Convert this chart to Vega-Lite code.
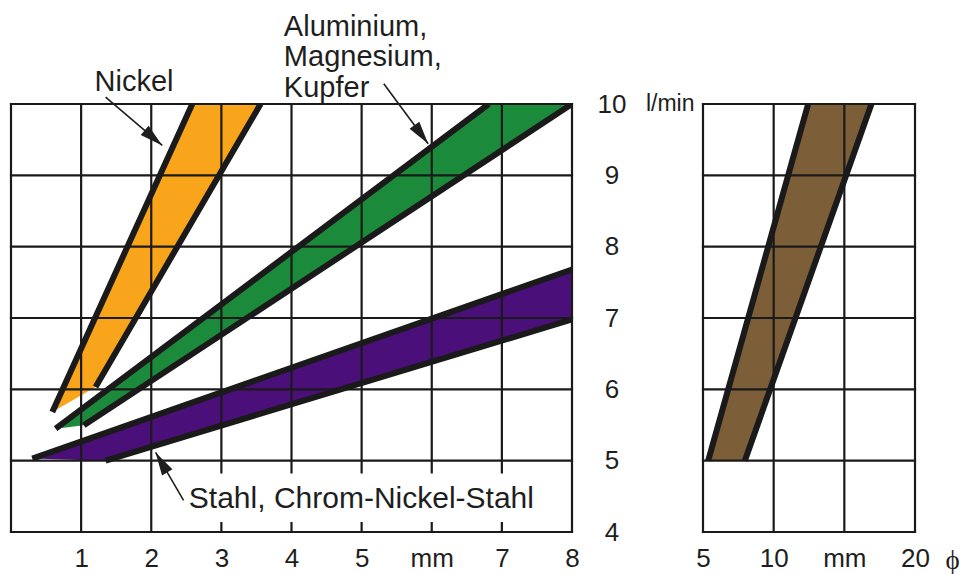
{
  "$schema": "https://vega.github.io/schema/vega-lite/v6.json",
  "background": "white",
  "padding": {"left": 9, "top": 13, "right": 0, "bottom": 0},
  "spacing": 19,
  "config": {"view": {"stroke": null}, "font": "Liberation Sans"},
  "datasets": {
    "bandsL": [
      {"band": "Nickel", "ord": 1, "x": 0.589, "y": 5.682},
      {"band": "Nickel", "ord": 2, "x": 2.585, "y": 10},
      {"band": "Nickel", "ord": 3, "x": 3.559, "y": 10},
      {"band": "Nickel", "ord": 4, "x": 1.206, "y": 6.032},
      {"band": "Aluminium", "ord": 1, "x": 0.636, "y": 5.449},
      {"band": "Aluminium", "ord": 2, "x": 6.813, "y": 10},
      {"band": "Aluminium", "ord": 3, "x": 8.0, "y": 10},
      {"band": "Aluminium", "ord": 4, "x": 1.039, "y": 5.495},
      {"band": "Stahl", "ord": 1, "x": 0.304, "y": 5.029},
      {"band": "Stahl", "ord": 2, "x": 8.0, "y": 7.68},
      {"band": "Stahl", "ord": 3, "x": 8.0, "y": 6.98},
      {"band": "Stahl", "ord": 4, "x": 1.349, "y": 5.0}
    ],
    "edgesL": [
      {"band": "Nickel", "x": 0.589, "y": 5.682, "x2": 2.585, "y2": 10},
      {"band": "Nickel", "x": 1.206, "y": 6.032, "x2": 3.559, "y2": 10},
      {"band": "Aluminium", "x": 0.636, "y": 5.449, "x2": 6.813, "y2": 10},
      {"band": "Aluminium", "x": 1.039, "y": 5.495, "x2": 8.0, "y2": 10},
      {"band": "Stahl", "x": 0.304, "y": 5.029, "x2": 8.0, "y2": 7.68},
      {"band": "Stahl", "x": 1.349, "y": 5.0, "x2": 8.0, "y2": 6.98}
    ],
    "bandsR": [
      {"band": "Rohr", "ord": 1, "x": 5.368, "y": 5.0},
      {"band": "Rohr", "ord": 2, "x": 12.44, "y": 10},
      {"band": "Rohr", "ord": 3, "x": 16.92, "y": 10},
      {"band": "Rohr", "ord": 4, "x": 7.96, "y": 5.0}
    ],
    "edgesR": [
      {"band": "Rohr", "x": 5.368, "y": 5.0, "x2": 12.44, "y2": 10},
      {"band": "Rohr", "x": 7.96, "y": 5.0, "x2": 16.92, "y2": 10}
    ],
    "vL": [{"x": 0}, {"x": 1}, {"x": 2}, {"x": 3}, {"x": 4}, {"x": 5}, {"x": 6}, {"x": 7}, {"x": 8}],
    "vR": [{"x": 5}, {"x": 10}, {"x": 15}, {"x": 20}],
    "h": [{"y": 4}, {"y": 5}, {"y": 6}, {"y": 7}, {"y": 8}, {"y": 9}, {"y": 10}],
    "boxL": [{"x": 2.42, "x2": 7.55, "y": 4.14, "y2": 4.82}],
    "notesL": [
      {"label": "Nickel", "x": 1.192, "y": 10.189},
      {"label": "Aluminium,", "x": 3.891, "y": 10.949},
      {"label": "Magnesium,", "x": 3.891, "y": 10.528},
      {"label": "Kupfer", "x": 3.891, "y": 10.094}
    ],
    "noteStahl": [
      {"label": "Stahl, Chrom-Nickel-Stahl", "x": 2.536, "y": 4.339}
    ],
    "arrowsL": [
      {"to": "Nickel", "x": 1.349, "y": 10.095, "x2": 2.157, "y2": 9.419, "heading": 130.4},
      {"to": "Aluminium", "x": 5.316, "y": 10.283, "x2": 5.949, "y2": 9.442, "heading": 143.5},
      {"to": "Stahl", "x": 2.461, "y": 4.444, "x2": 2.062, "y2": 5.116, "heading": -30.3}
    ],
    "unitR": [{"label": "l/min", "x": 5, "y": 10}],
    "phiR": [{"label": "ϕ", "x": 22.66, "y": 3.59}]
  },
  "hconcat": [
    {
      "width": 561,
      "height": 428,
      "layer": [
        {
          "data": {"name": "bandsL"},
          "mark": {"type": "line", "strokeWidth": 0},
          "encoding": {
            "x": {"field": "x", "type": "quantitative", "scale": {"domain": [0, 8], "nice": false, "zero": false},
              "axis": {"orient": "bottom", "values": [1, 2, 3, 4, 5, 6, 7, 8], "labelExpr": "datum.value == 6 ? 'mm' : datum.label", "domain": false, "ticks": false, "tickSize": 0, "grid": false, "labelFontSize": 26, "labelFont": "Liberation Sans", "labelColor": "#1e1e1e", "labelPadding": 13, "labelFlush": false, "labelOverlap": false, "title": null}},
            "y": {"field": "y", "type": "quantitative", "scale": {"domain": [4, 10], "nice": false, "zero": false},
              "axis": {"orient": "right", "values": [4, 5, 6, 7, 8, 9, 10], "domain": false, "ticks": false, "tickSize": 0, "grid": false, "labelFontSize": 26, "labelFont": "Liberation Sans", "labelColor": "#1e1e1e", "labelAlign": "center", "labelBaseline": "middle", "labelPadding": 39.5, "labelFlush": false, "labelOverlap": false, "title": null}},
            "order": {"field": "ord", "type": "quantitative"},
            "fill": {"field": "band", "type": "nominal", "scale": {"domain": ["Nickel", "Aluminium", "Stahl", "Rohr"], "range": ["#F9A51B", "#1C8A3B", "#4A0F78", "#7C5E38"]}, "legend": null}
          }
        },
        {
          "data": {"name": "vL"},
          "mark": {"type": "rule", "color": "#1a1a1a", "strokeWidth": 2.2, "strokeCap": "square"},
          "encoding": {"x": {"field": "x", "type": "quantitative", "scale": {"domain": [0, 8], "nice": false, "zero": false},
              "axis": {"orient": "bottom", "values": [1, 2, 3, 4, 5, 6, 7, 8], "labelExpr": "datum.value == 6 ? 'mm' : datum.label", "domain": false, "ticks": false, "tickSize": 0, "grid": false, "labelFontSize": 26, "labelFont": "Liberation Sans", "labelColor": "#1e1e1e", "labelPadding": 13, "labelFlush": false, "labelOverlap": false, "title": null}}}
        },
        {
          "data": {"name": "h"},
          "mark": {"type": "rule", "color": "#1a1a1a", "strokeWidth": 2.2, "strokeCap": "square"},
          "encoding": {"y": {"field": "y", "type": "quantitative", "scale": {"domain": [4, 10], "nice": false, "zero": false},
              "axis": {"orient": "right", "values": [4, 5, 6, 7, 8, 9, 10], "domain": false, "ticks": false, "tickSize": 0, "grid": false, "labelFontSize": 26, "labelFont": "Liberation Sans", "labelColor": "#1e1e1e", "labelAlign": "center", "labelBaseline": "middle", "labelPadding": 39.5, "labelFlush": false, "labelOverlap": false, "title": null}}}
        },
        {
          "data": {"name": "edgesL"},
          "mark": {"type": "rule", "color": "#1a1a1a", "strokeWidth": 6, "strokeCap": "butt", "clip": true},
          "encoding": {
            "x": {"field": "x", "type": "quantitative", "scale": {"domain": [0, 8], "nice": false, "zero": false},
              "axis": {"orient": "bottom", "values": [1, 2, 3, 4, 5, 6, 7, 8], "labelExpr": "datum.value == 6 ? 'mm' : datum.label", "domain": false, "ticks": false, "tickSize": 0, "grid": false, "labelFontSize": 26, "labelFont": "Liberation Sans", "labelColor": "#1e1e1e", "labelPadding": 13, "labelFlush": false, "labelOverlap": false, "title": null}},
            "y": {"field": "y", "type": "quantitative", "scale": {"domain": [4, 10], "nice": false, "zero": false},
              "axis": {"orient": "right", "values": [4, 5, 6, 7, 8, 9, 10], "domain": false, "ticks": false, "tickSize": 0, "grid": false, "labelFontSize": 26, "labelFont": "Liberation Sans", "labelColor": "#1e1e1e", "labelAlign": "center", "labelBaseline": "middle", "labelPadding": 39.5, "labelFlush": false, "labelOverlap": false, "title": null}},
            "x2": {"field": "x2"},
            "y2": {"field": "y2"}
          }
        },
        {
          "data": {"name": "boxL"},
          "mark": {"type": "rect", "color": "white"},
          "encoding": {
            "x": {"field": "x", "type": "quantitative", "scale": {"domain": [0, 8], "nice": false, "zero": false},
              "axis": {"orient": "bottom", "values": [1, 2, 3, 4, 5, 6, 7, 8], "labelExpr": "datum.value == 6 ? 'mm' : datum.label", "domain": false, "ticks": false, "tickSize": 0, "grid": false, "labelFontSize": 26, "labelFont": "Liberation Sans", "labelColor": "#1e1e1e", "labelPadding": 13, "labelFlush": false, "labelOverlap": false, "title": null}},
            "y": {"field": "y", "type": "quantitative", "scale": {"domain": [4, 10], "nice": false, "zero": false},
              "axis": {"orient": "right", "values": [4, 5, 6, 7, 8, 9, 10], "domain": false, "ticks": false, "tickSize": 0, "grid": false, "labelFontSize": 26, "labelFont": "Liberation Sans", "labelColor": "#1e1e1e", "labelAlign": "center", "labelBaseline": "middle", "labelPadding": 39.5, "labelFlush": false, "labelOverlap": false, "title": null}},
            "x2": {"field": "x2"},
            "y2": {"field": "y2"}
          }
        },
        {
          "data": {"name": "notesL"},
          "mark": {"type": "text", "align": "left", "baseline": "alphabetic", "fontSize": 29, "font": "Liberation Sans", "color": "#1e1e1e"},
          "encoding": {
            "x": {"field": "x", "type": "quantitative", "scale": {"domain": [0, 8], "nice": false, "zero": false},
              "axis": {"orient": "bottom", "values": [1, 2, 3, 4, 5, 6, 7, 8], "labelExpr": "datum.value == 6 ? 'mm' : datum.label", "domain": false, "ticks": false, "tickSize": 0, "grid": false, "labelFontSize": 26, "labelFont": "Liberation Sans", "labelColor": "#1e1e1e", "labelPadding": 13, "labelFlush": false, "labelOverlap": false, "title": null}},
            "y": {"field": "y", "type": "quantitative", "scale": {"domain": [4, 10], "nice": false, "zero": false},
              "axis": {"orient": "right", "values": [4, 5, 6, 7, 8, 9, 10], "domain": false, "ticks": false, "tickSize": 0, "grid": false, "labelFontSize": 26, "labelFont": "Liberation Sans", "labelColor": "#1e1e1e", "labelAlign": "center", "labelBaseline": "middle", "labelPadding": 39.5, "labelFlush": false, "labelOverlap": false, "title": null}},
            "text": {"field": "label"}
          }
        },
        {
          "data": {"name": "noteStahl"},
          "mark": {"type": "text", "align": "left", "baseline": "alphabetic", "fontSize": 30, "font": "Liberation Sans", "color": "#1e1e1e"},
          "encoding": {
            "x": {"field": "x", "type": "quantitative", "scale": {"domain": [0, 8], "nice": false, "zero": false},
              "axis": {"orient": "bottom", "values": [1, 2, 3, 4, 5, 6, 7, 8], "labelExpr": "datum.value == 6 ? 'mm' : datum.label", "domain": false, "ticks": false, "tickSize": 0, "grid": false, "labelFontSize": 26, "labelFont": "Liberation Sans", "labelColor": "#1e1e1e", "labelPadding": 13, "labelFlush": false, "labelOverlap": false, "title": null}},
            "y": {"field": "y", "type": "quantitative", "scale": {"domain": [4, 10], "nice": false, "zero": false},
              "axis": {"orient": "right", "values": [4, 5, 6, 7, 8, 9, 10], "domain": false, "ticks": false, "tickSize": 0, "grid": false, "labelFontSize": 26, "labelFont": "Liberation Sans", "labelColor": "#1e1e1e", "labelAlign": "center", "labelBaseline": "middle", "labelPadding": 39.5, "labelFlush": false, "labelOverlap": false, "title": null}},
            "text": {"field": "label"}
          }
        },
        {
          "data": {"name": "arrowsL"},
          "mark": {"type": "rule", "color": "#1e1e1e", "strokeWidth": 1.6},
          "encoding": {
            "x": {"field": "x", "type": "quantitative", "scale": {"domain": [0, 8], "nice": false, "zero": false},
              "axis": {"orient": "bottom", "values": [1, 2, 3, 4, 5, 6, 7, 8], "labelExpr": "datum.value == 6 ? 'mm' : datum.label", "domain": false, "ticks": false, "tickSize": 0, "grid": false, "labelFontSize": 26, "labelFont": "Liberation Sans", "labelColor": "#1e1e1e", "labelPadding": 13, "labelFlush": false, "labelOverlap": false, "title": null}},
            "y": {"field": "y", "type": "quantitative", "scale": {"domain": [4, 10], "nice": false, "zero": false},
              "axis": {"orient": "right", "values": [4, 5, 6, 7, 8, 9, 10], "domain": false, "ticks": false, "tickSize": 0, "grid": false, "labelFontSize": 26, "labelFont": "Liberation Sans", "labelColor": "#1e1e1e", "labelAlign": "center", "labelBaseline": "middle", "labelPadding": 39.5, "labelFlush": false, "labelOverlap": false, "title": null}},
            "x2": {"field": "x2"},
            "y2": {"field": "y2"}
          }
        },
        {
          "data": {"name": "arrowsL"},
          "mark": {"type": "point", "shape": "M0,0L-0.55,2.1L0.55,2.1Z", "filled": true, "color": "#1e1e1e", "opacity": 1, "size": 484, "strokeWidth": 0},
          "encoding": {
            "x": {"field": "x2", "type": "quantitative", "scale": {"domain": [0, 8], "nice": false, "zero": false},
              "axis": {"orient": "bottom", "values": [1, 2, 3, 4, 5, 6, 7, 8], "labelExpr": "datum.value == 6 ? 'mm' : datum.label", "domain": false, "ticks": false, "tickSize": 0, "grid": false, "labelFontSize": 26, "labelFont": "Liberation Sans", "labelColor": "#1e1e1e", "labelPadding": 13, "labelFlush": false, "labelOverlap": false, "title": null}},
            "y": {"field": "y2", "type": "quantitative", "scale": {"domain": [4, 10], "nice": false, "zero": false},
              "axis": {"orient": "right", "values": [4, 5, 6, 7, 8, 9, 10], "domain": false, "ticks": false, "tickSize": 0, "grid": false, "labelFontSize": 26, "labelFont": "Liberation Sans", "labelColor": "#1e1e1e", "labelAlign": "center", "labelBaseline": "middle", "labelPadding": 39.5, "labelFlush": false, "labelOverlap": false, "title": null}},
            "angle": {"field": "heading", "type": "quantitative", "scale": null}
          }
        }
      ]
    },
    {
      "width": 212,
      "height": 428,
      "layer": [
        {
          "data": {"name": "bandsR"},
          "mark": {"type": "line", "strokeWidth": 0},
          "encoding": {
            "x": {"field": "x", "type": "quantitative", "scale": {"domain": [5, 20], "nice": false, "zero": false},
              "axis": {"orient": "bottom", "values": [5, 10, 15, 20], "labelExpr": "datum.value == 15 ? 'mm' : datum.label", "domain": false, "ticks": false, "tickSize": 0, "grid": false, "labelFontSize": 26, "labelFont": "Liberation Sans", "labelColor": "#1e1e1e", "labelPadding": 13, "labelFlush": false, "labelOverlap": false, "title": null}},
            "y": {"field": "y", "type": "quantitative", "scale": {"domain": [4, 10], "nice": false, "zero": false}, "axis": null},
            "order": {"field": "ord", "type": "quantitative"},
            "fill": {"field": "band", "type": "nominal", "scale": {"domain": ["Nickel", "Aluminium", "Stahl", "Rohr"], "range": ["#F9A51B", "#1C8A3B", "#4A0F78", "#7C5E38"]}, "legend": null}
          }
        },
        {
          "data": {"name": "vR"},
          "mark": {"type": "rule", "color": "#1a1a1a", "strokeWidth": 2.2, "strokeCap": "square"},
          "encoding": {"x": {"field": "x", "type": "quantitative", "scale": {"domain": [5, 20], "nice": false, "zero": false},
              "axis": {"orient": "bottom", "values": [5, 10, 15, 20], "labelExpr": "datum.value == 15 ? 'mm' : datum.label", "domain": false, "ticks": false, "tickSize": 0, "grid": false, "labelFontSize": 26, "labelFont": "Liberation Sans", "labelColor": "#1e1e1e", "labelPadding": 13, "labelFlush": false, "labelOverlap": false, "title": null}}}
        },
        {
          "data": {"name": "h"},
          "mark": {"type": "rule", "color": "#1a1a1a", "strokeWidth": 2.2, "strokeCap": "square"},
          "encoding": {"y": {"field": "y", "type": "quantitative", "scale": {"domain": [4, 10], "nice": false, "zero": false}, "axis": null}}
        },
        {
          "data": {"name": "edgesR"},
          "mark": {"type": "rule", "color": "#1a1a1a", "strokeWidth": 6, "strokeCap": "butt", "clip": true},
          "encoding": {
            "x": {"field": "x", "type": "quantitative", "scale": {"domain": [5, 20], "nice": false, "zero": false},
              "axis": {"orient": "bottom", "values": [5, 10, 15, 20], "labelExpr": "datum.value == 15 ? 'mm' : datum.label", "domain": false, "ticks": false, "tickSize": 0, "grid": false, "labelFontSize": 26, "labelFont": "Liberation Sans", "labelColor": "#1e1e1e", "labelPadding": 13, "labelFlush": false, "labelOverlap": false, "title": null}},
            "y": {"field": "y", "type": "quantitative", "scale": {"domain": [4, 10], "nice": false, "zero": false}, "axis": null},
            "x2": {"field": "x2"},
            "y2": {"field": "y2"}
          }
        },
        {
          "data": {"name": "unitR"},
          "mark": {"type": "text", "align": "right", "baseline": "middle", "dx": -8.5, "fontSize": 23, "font": "Liberation Sans", "color": "#1e1e1e"},
          "encoding": {
            "x": {"field": "x", "type": "quantitative", "scale": {"domain": [5, 20], "nice": false, "zero": false},
              "axis": {"orient": "bottom", "values": [5, 10, 15, 20], "labelExpr": "datum.value == 15 ? 'mm' : datum.label", "domain": false, "ticks": false, "tickSize": 0, "grid": false, "labelFontSize": 26, "labelFont": "Liberation Sans", "labelColor": "#1e1e1e", "labelPadding": 13, "labelFlush": false, "labelOverlap": false, "title": null}},
            "y": {"field": "y", "type": "quantitative", "scale": {"domain": [4, 10], "nice": false, "zero": false}, "axis": null},
            "text": {"field": "label"}
          }
        },
        {
          "data": {"name": "phiR"},
          "mark": {"type": "text", "align": "center", "baseline": "middle", "fontSize": 27, "font": "Liberation Serif, DejaVu Serif", "color": "#1e1e1e"},
          "encoding": {
            "x": {"field": "x", "type": "quantitative", "scale": {"domain": [5, 20], "nice": false, "zero": false},
              "axis": {"orient": "bottom", "values": [5, 10, 15, 20], "labelExpr": "datum.value == 15 ? 'mm' : datum.label", "domain": false, "ticks": false, "tickSize": 0, "grid": false, "labelFontSize": 26, "labelFont": "Liberation Sans", "labelColor": "#1e1e1e", "labelPadding": 13, "labelFlush": false, "labelOverlap": false, "title": null}},
            "y": {"field": "y", "type": "quantitative", "scale": {"domain": [4, 10], "nice": false, "zero": false}, "axis": null},
            "text": {"field": "label"}
          }
        }
      ]
    }
  ]
}
